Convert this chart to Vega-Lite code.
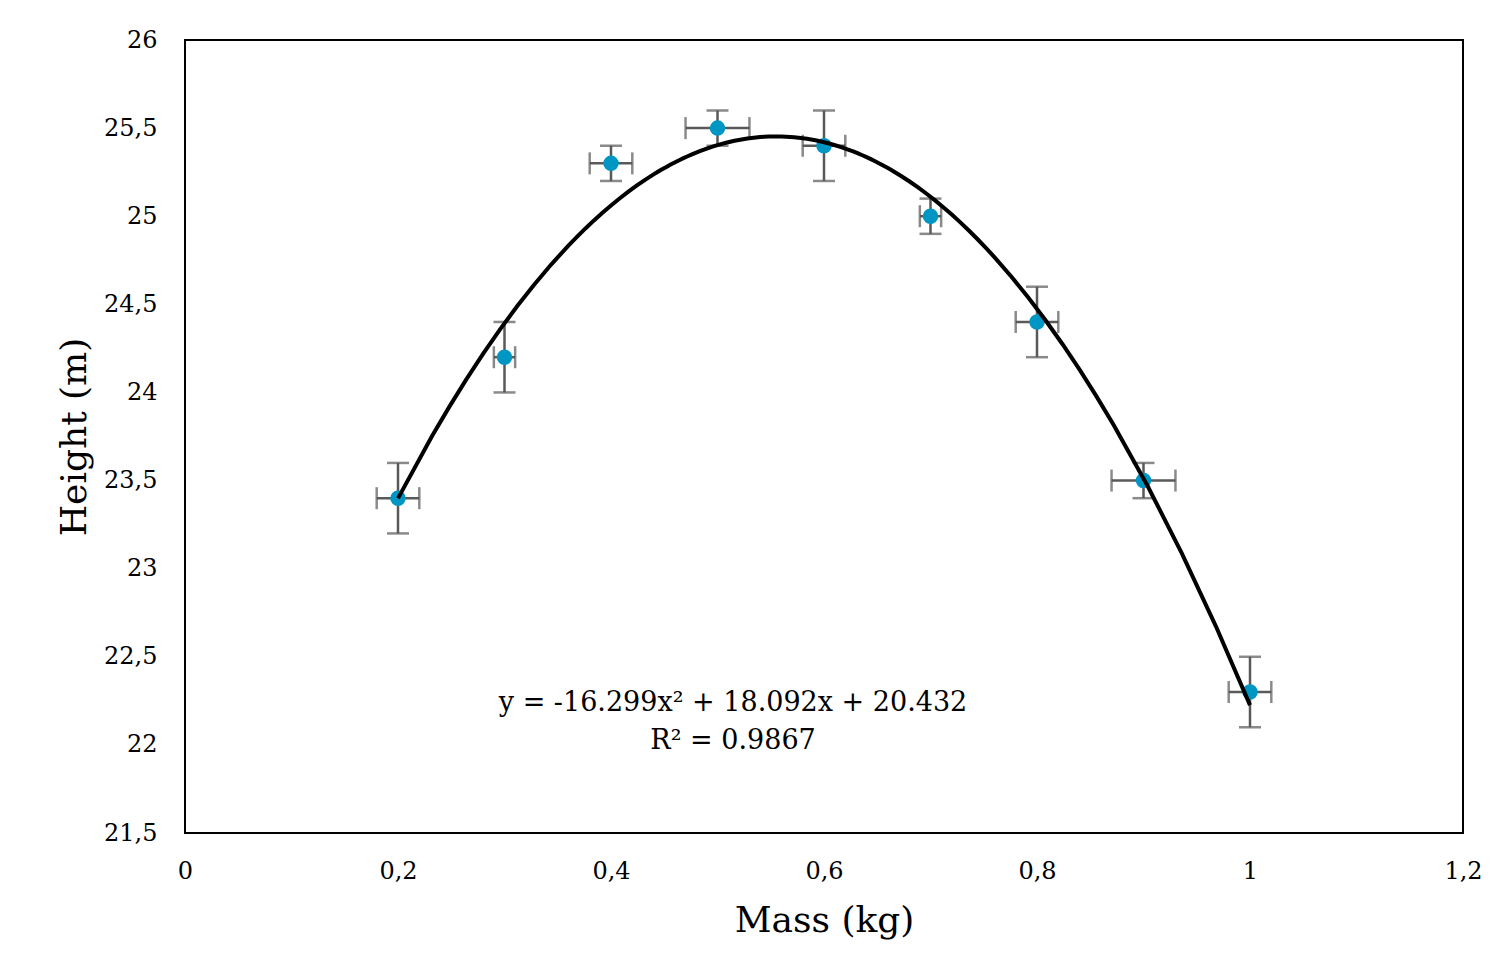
{
  "$schema": "https://vega.github.io/schema/vega-lite/v6.json",
  "autosize": {"type": "none"},
  "padding": {"left": 185, "top": 40, "right": 34, "bottom": 141},
  "width": 1278,
  "height": 793,
  "background": "white",
  "config": {
    "font": "DejaVu Serif",
    "view": {"stroke": "black", "strokeWidth": 2},
    "axis": {"grid": false, "ticks": false, "domain": false, "labelFlush": false, "labelFont": "DejaVu Serif", "titleFont": "DejaVu Serif", "labelColor": "black", "titleColor": "black", "titleFontWeight": "normal", "labelFontSize": 24, "titleFontSize": 36}
  },
  "datasets": {
    "pts": [
      {"mass": 0.2, "height": 23.4, "xlo": 0.18, "xhi": 0.22, "ylo": 23.2, "yhi": 23.6},
      {"mass": 0.3, "height": 24.2, "xlo": 0.29, "xhi": 0.31, "ylo": 24.0, "yhi": 24.4},
      {"mass": 0.4, "height": 25.3, "xlo": 0.38, "xhi": 0.42, "ylo": 25.2, "yhi": 25.4},
      {"mass": 0.5, "height": 25.5, "xlo": 0.47, "xhi": 0.53, "ylo": 25.4, "yhi": 25.6},
      {"mass": 0.6, "height": 25.4, "xlo": 0.58, "xhi": 0.62, "ylo": 25.2, "yhi": 25.6},
      {"mass": 0.7, "height": 25.0, "xlo": 0.69, "xhi": 0.71, "ylo": 24.9, "yhi": 25.1},
      {"mass": 0.8, "height": 24.4, "xlo": 0.78, "xhi": 0.82, "ylo": 24.2, "yhi": 24.6},
      {"mass": 0.9, "height": 23.5, "xlo": 0.87, "xhi": 0.93, "ylo": 23.4, "yhi": 23.6},
      {"mass": 1.0, "height": 22.3, "xlo": 0.98, "xhi": 1.02, "ylo": 22.1, "yhi": 22.5}
    ],
    "eq": [
      {"mass": 0.5146, "height": 22.238, "label": "y = -16.299x² + 18.092x + 20.432"},
      {"mass": 0.5146, "height": 22.022, "label": "R² = 0.9867"}
    ]
  },
  "data": {"name": "pts"},
  "layer": [
    {
      "mark": {"type": "rule", "color": "#595959", "strokeWidth": 2.5},
      "encoding": {
        "x": {"field": "mass", "type": "quantitative", "scale": {"domain": [0, 1.2], "nice": false}, "axis": {"values": [0, 0.2, 0.4, 0.6, 0.8, 1, 1.2], "format": "~g", "labelExpr": "replace(datum.label, '.', ',')", "labelPadding": 26, "title": "Mass (kg)", "titlePadding": 20}},
        "y": {"field": "ylo", "type": "quantitative", "scale": {"domain": [21.5, 26], "nice": false, "zero": false}, "axis": {"values": [21.5, 22, 22.5, 23, 23.5, 24, 24.5, 25, 25.5, 26], "format": "~g", "labelExpr": "replace(datum.label, '.', ',')", "labelPadding": 28, "title": "Height (m)", "titlePadding": 10}},
        "y2": {"field": "yhi"}
      }
    },
    {
      "mark": {"type": "rule", "color": "#595959", "strokeWidth": 2.5},
      "encoding": {
        "x": {"field": "xlo", "type": "quantitative"},
        "x2": {"field": "xhi"},
        "y": {"field": "height", "type": "quantitative"}
      }
    },
    {
      "mark": {"type": "tick", "orient": "horizontal", "color": "#595959", "thickness": 2.5, "size": 22},
      "encoding": {"x": {"field": "mass", "type": "quantitative"}, "y": {"field": "ylo", "type": "quantitative"}}
    },
    {
      "mark": {"type": "tick", "orient": "horizontal", "color": "#595959", "thickness": 2.5, "size": 22},
      "encoding": {"x": {"field": "mass", "type": "quantitative"}, "y": {"field": "yhi", "type": "quantitative"}}
    },
    {
      "mark": {"type": "tick", "orient": "vertical", "color": "#595959", "thickness": 2.5, "size": 22},
      "encoding": {"x": {"field": "xlo", "type": "quantitative"}, "y": {"field": "height", "type": "quantitative"}}
    },
    {
      "mark": {"type": "tick", "orient": "vertical", "color": "#595959", "thickness": 2.5, "size": 22},
      "encoding": {"x": {"field": "xhi", "type": "quantitative"}, "y": {"field": "height", "type": "quantitative"}}
    },
    {
      "mark": {"type": "point", "filled": true, "opacity": 1, "color": "#0096C4", "size": 240},
      "encoding": {"x": {"field": "mass", "type": "quantitative"}, "y": {"field": "height", "type": "quantitative"}}
    },
    {
      "transform": [{"regression": "height", "on": "mass", "method": "poly", "order": 2, "extent": [0.2, 1.0]}],
      "mark": {"type": "line", "color": "black", "strokeWidth": 4},
      "encoding": {"x": {"field": "mass", "type": "quantitative"}, "y": {"field": "height", "type": "quantitative"}}
    },
    {
      "data": {"name": "eq"},
      "mark": {"type": "text", "fontSize": 27, "font": "DejaVu Serif", "color": "black", "align": "center", "baseline": "middle"},
      "encoding": {"x": {"field": "mass", "type": "quantitative"}, "y": {"field": "height", "type": "quantitative"}, "text": {"field": "label"}}
    }
  ]
}
